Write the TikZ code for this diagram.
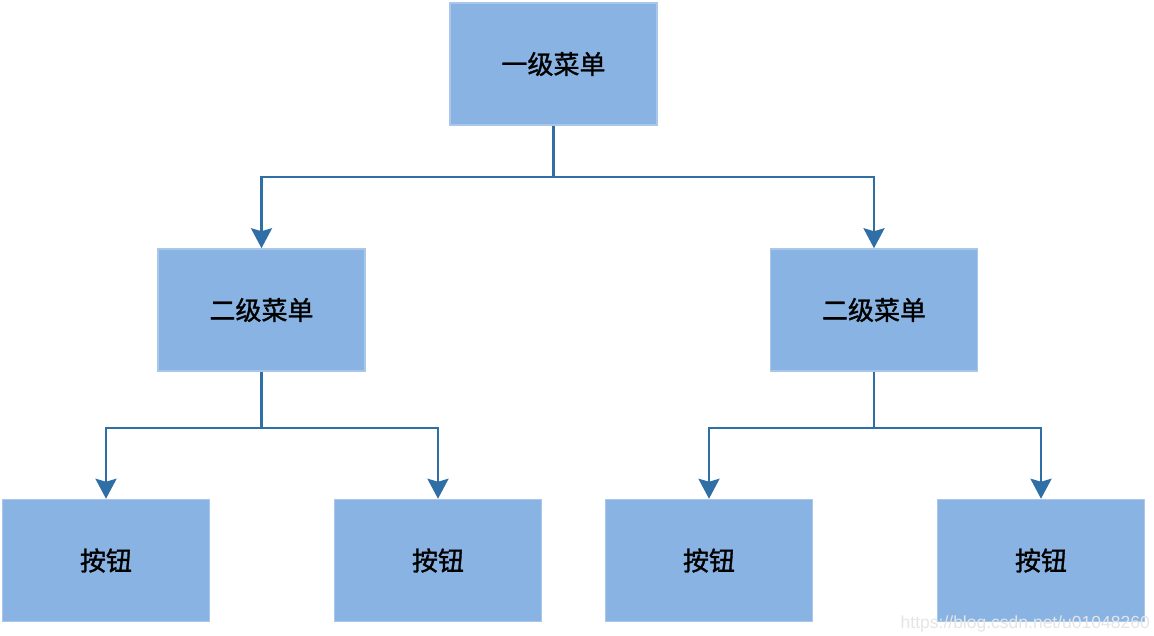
\documentclass[tikz,border=0pt]{standalone}
\usepackage{fontspec}
\newfontfamily\cjk[FakeBold=1.2]{Noto Sans CJK SC}
\newfontfamily\wm{Liberation Sans}
\usetikzlibrary{arrows.meta}
\definecolor{boxfill}{HTML}{88B3E3}
\definecolor{boxline}{HTML}{A8C7EB}
\definecolor{conn}{HTML}{2F6FA5}
\begin{document}
\begin{tikzpicture}[x=1pt,y=-1pt,
  box/.style={draw=boxline,line width=1.5pt,fill=boxfill,minimum width=207pt,minimum height=122pt,inner sep=0pt,font=\cjk\fontsize{26}{30}\selectfont},
  link/.style={draw=conn,line width=2.6pt},
  arr/.style={link,-{Stealth[length=20pt,width=21pt,inset=3pt]}}]
\useasboundingbox (0,0) rectangle (1154,636);
\node[box] (top) at (553.5,64) {一级菜单};
\node[box] (l2a) at (261.5,310) {二级菜单};
\node[box] (l2b) at (874,310) {二级菜单};
\node[box] (b1) at (106,560.5) {按钮};
\node[box] (b2) at (438,560.5) {按钮};
\node[box] (b3) at (709,560.5) {按钮};
\node[box] (b4) at (1041,560.5) {按钮};
\coordinate (j0) at (553.5,177);
\coordinate (j1) at (261.5,428);
\coordinate (j2) at (874,428);
\draw[link] (top.south) -- (j0);
\draw[arr] (j0) -| (l2a.north);
\draw[arr] (j0) -| (l2b.north);
\draw[link] (l2a.south) -- (j1);
\draw[arr] (j1) -| (b1.north);
\draw[arr] (j1) -| (b2.north);
\draw[link] (l2b.south) -- (j2);
\draw[arr] (j2) -| (b3.north);
\draw[arr] (j2) -| (b4.north);
\node[anchor=east,text=white!80!gray,font=\wm\fontsize{17.5}{20}\selectfont,inner sep=0pt] (wmk) at (1150,624) {https://blog.csdn.net/u01048260};
\end{tikzpicture}
\end{document}
